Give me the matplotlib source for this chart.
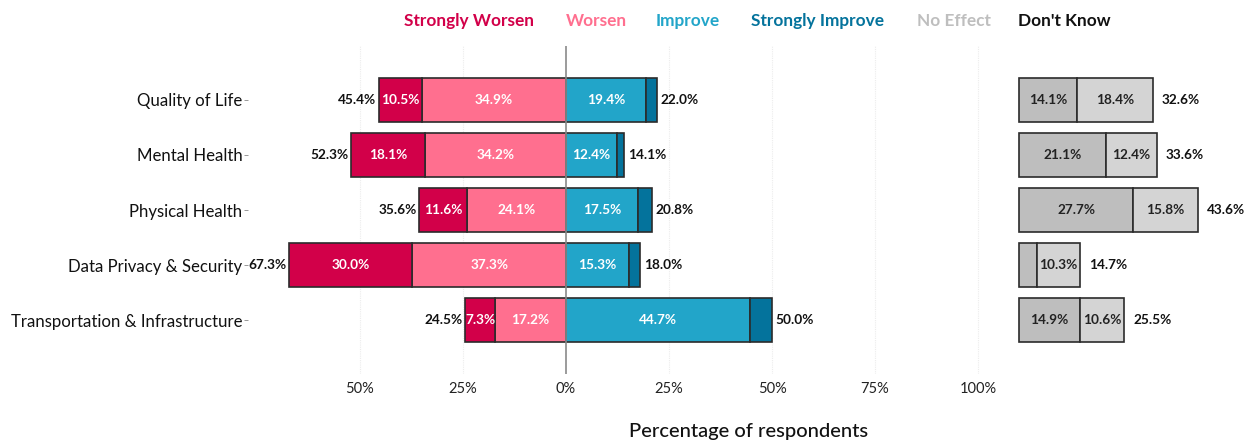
import matplotlib.pyplot as plt
import numpy as np

plt.rcParams['font.family'] = ['Lato', 'DejaVu Sans']

# data
categories = ["Quality of Life", "Mental Health", "Physical Health",
              "Data Privacy & Security", "Transportation & Infrastructure"]
strongly_worsen = [10.5, 18.1, 11.6, 30.0, 7.3]
worsen = [34.9, 34.2, 24.1, 37.3, 17.2]
improve = [19.4, 12.4, 17.5, 15.3, 44.7]
strongly_improve = [2.6, 1.7, 3.3, 2.7, 5.3]
no_effect = [14.1, 21.1, 27.7, 4.4, 14.9]
dont_know = [18.4, 12.4, 15.8, 10.3, 10.6]
neg_totals = ["45.4%", "52.3%", "35.6%", "67.3%", "24.5%"]
pos_totals = ["22.0%", "14.1%", "20.8%", "18.0%", "50.0%"]
other_totals = ["32.6%", "33.6%", "43.6%", "14.7%", "25.5%"]
x_ticks = [-50, -25, 0, 25, 50, 75, 100]

colors = {
    "Strongly Worsen": "#D20049",
    "Worsen": "#FF6F8F",
    "Improve": "#22A5C9",
    "Strongly Improve": "#04739C",
    "No Effect": "#BEBEBE",
    "Don't Know": "#D4D4D4",
}
edge = "#2b2b2b"
W, H = 1255, 443

fig = plt.figure(figsize=(W / 100, H / 100), dpi=100)
ax = fig.add_axes([248 / W, (H - 374) / H, (990 - 248) / W, (374 - 46) / H])
ax2 = fig.add_axes([1019 / W, (H - 374) / H, (1250 - 1019) / W, (374 - 46) / H])

y = np.arange(len(categories))
bh = 0.8
sw = np.array(strongly_worsen)
wo = np.array(worsen)
im = np.array(improve)
si = np.array(strongly_improve)

for xv in x_ticks:
    if xv != 0:
        ax.axvline(xv, color="#ececec", lw=0.8, ls=(0, (1, 1)), zorder=0)

ax.barh(y, -wo, height=bh, color=colors["Worsen"], edgecolor=edge, lw=1.2, zorder=2)
ax.barh(y, -sw, left=-wo, height=bh, color=colors["Strongly Worsen"], edgecolor=edge, lw=1.2, zorder=2)
ax.barh(y, im, height=bh, color=colors["Improve"], edgecolor=edge, lw=1.2, zorder=2)
ax.barh(y, si, left=im, height=bh, color=colors["Strongly Improve"], edgecolor=edge, lw=1.2, zorder=2)
ax.axvline(0, color="#8a8a8a", lw=1.2, zorder=3)

fs = 9.8
lab = dict(color="white", fontsize=fs, fontweight="bold", ha="center", va="center", zorder=4)
for i in range(len(categories)):
    if sw[i] >= 7:
        ax.text(-wo[i] - sw[i] / 2, y[i], f"{sw[i]:.1f}%", **lab)
    ax.text(-wo[i] / 2, y[i], f"{wo[i]:.1f}%", **lab)
    ax.text(im[i] / 2, y[i], f"{im[i]:.1f}%", **lab)
    ax.text(-wo[i] - sw[i] - 0.6, y[i], neg_totals[i], ha="right", va="center",
            fontsize=fs, fontweight="bold", color="#111111")
    ax.text(im[i] + si[i] + 0.9, y[i], pos_totals[i], ha="left", va="center",
            fontsize=fs, fontweight="bold", color="#111111")

ax.set_xlim(-77.18, 102.9)
ax.set_ylim(4.98, -0.98)
ax.set_yticks(y)
ax.set_yticklabels(categories, fontsize=12.1, color="#111111")
ax.set_xticks(x_ticks)
ax.set_xticklabels([f"{abs(v)}%" for v in x_ticks], fontsize=10.5, color="#222222")
ax.tick_params(axis="y", length=3, width=0.6, color="#888888", pad=1)
ax.tick_params(axis="x", length=0, pad=6)
for s in ax.spines.values():
    s.set_visible(False)

ne = np.array(no_effect)
dk = np.array(dont_know)
ax2.barh(y, ne, height=bh, color=colors["No Effect"], edgecolor=edge, lw=1.2, clip_on=False)
ax2.barh(y, dk, left=ne, height=bh, color=colors["Don't Know"], edgecolor=edge, lw=1.2, clip_on=False)
for i in range(len(categories)):
    if ne[i] >= 7:
        ax2.text(ne[i] / 2, y[i], f"{ne[i]:.1f}%", ha="center", va="center",
                 fontsize=fs, fontweight="bold", color="#222222")
    ax2.text(ne[i] + dk[i] / 2, y[i], f"{dk[i]:.1f}%", ha="center", va="center",
             fontsize=fs, fontweight="bold", color="#222222")
    ax2.text(ne[i] + dk[i] + 2.2, y[i], other_totals[i], ha="left", va="center",
             fontsize=fs, fontweight="bold", color="#111111")
ax2.set_xlim(0, 231 / 4.12)
ax2.set_ylim(4.98, -0.98)
ax2.axis("off")

# legend as coloured words across the top
legend_items = [("Strongly Worsen", "#D20049", 404), ("Worsen", "#FF6F8F", 566),
                ("Improve", "#22A5C9", 656), ("Strongly Improve", "#04739C", 751),
                ("No Effect", "#BEBEBE", 917), ("Don't Know", "#111111", 1018)]
for name, c, px in legend_items:
    fig.text(px / W, 1 - 21 / H, name, color=c, fontsize=12.4, fontweight="bold",
             ha="left", va="center")

fig.text(749 / W, 1 - 431 / H, "Percentage of respondents", ha="center", va="center",
         fontsize=14.5, fontweight="medium", color="#111111")

fig.savefig("out.png", dpi=100)
